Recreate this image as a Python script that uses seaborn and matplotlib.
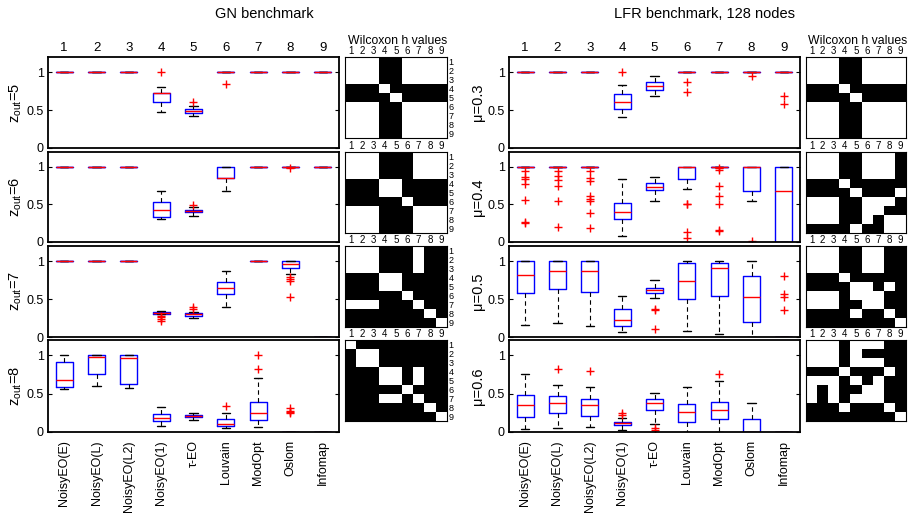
import numpy as np
import matplotlib
matplotlib.use('Agg')
import matplotlib.pyplot as plt
from matplotlib.colors import ListedColormap
import seaborn as sns

# ---------------- data ----------------
METHODS = ["NoisyEO(E)", "NoisyEO(L)", "NoisyEO(L2)", "NoisyEO(1)", "τ-EO",
           "Louvain", "ModOpt", "Oslom", "Infomap"]
NUMS = ["1", "2", "3", "4", "5", "6", "7", "8", "9"]
GN_ROWS = ["$z_{out}$=5", "$z_{out}$=6", "$z_{out}$=7", "$z_{out}$=8"]
LFR_ROWS = ["μ=0.3", "μ=0.4", "μ=0.5", "μ=0.6"]

# GN benchmark box statistics (rows: z_out=5..8, columns: methods 1..9)
GN_Q1 = [[1, 1, 1, 0.60, 0.46, 1, 1, 1, 1],
         [1, 1, 1, 0.33, 0.395, 0.85, 1, 1, 1],
         [1, 1, 1, 0.307, 0.28, 0.565, 1, 0.915, 0],
         [0.59, 0.755, 0.63, 0.14, 0.19, 0.08, 0.155, 0, 0]]
GN_MED = [[1, 1, 1, 0.73, 0.49, 1, 1, 1, 1],
          [1, 1, 1, 0.42, 0.41, 0.85, 1, 1, 1],
          [1, 1, 1, 0.315, 0.30, 0.645, 1, 0.96, 0],
          [0.675, 0.98, 0.965, 0.185, 0.205, 0.10, 0.25, 0, 0]]
GN_Q3 = [[1, 1, 1, 0.73, 0.51, 1, 1, 1, 1],
         [1, 1, 1, 0.53, 0.43, 1, 1, 1, 1],
         [1, 1, 1, 0.325, 0.32, 0.73, 1, 1.0, 0],
         [0.91, 1, 1, 0.23, 0.22, 0.175, 0.385, 0, 0]]
GN_LO = [[1, 1, 1, 0.47, 0.425, 1, 1, 1, 1],
         [1, 1, 1, 0.31, 0.35, 0.675, 1, 1, 1],
         [1, 1, 1, 0.30, 0.255, 0.39, 1, 0.83, 0],
         [0.56, 0.595, 0.58, 0.08, 0.16, 0.05, 0.06, 0, 0]]
GN_HI = [[1, 1, 1, 0.81, 0.55, 1, 1, 1, 1],
         [1, 1, 1, 0.675, 0.465, 1, 1, 1, 1],
         [1, 1, 1, 0.34, 0.33, 0.87, 1, 1, 0],
         [1, 1, 1, 0.32, 0.245, 0.245, 0.70, 0, 0]]
GN_FLIERS = [[[], [], [], [1.0], [0.60], [0.84], [], [], []],
             [[], [], [], [], [0.49], [], [], [0.98], []],
             [[], [], [], [0.28, 0.26, 0.24, 0.21], [0.40, 0.37], [], [],
              [0.79, 0.76, 0.74, 0.53], []],
             [[], [], [], [], [], [0.335], [1.0, 0.825], [0.31, 0.28, 0.26, 0.25], []]]

# LFR benchmark box statistics (rows: mu=0.3..0.6)
LFR_Q1 = [[1, 1, 1, 0.51, 0.76, 1, 1, 1, 1],
          [1, 1, 1, 0.30, 0.69, 0.84, 1, 0.68, 0],
          [0.585, 0.635, 0.595, 0.145, 0.585, 0.495, 0.535, 0.20, 0],
          [0.19, 0.25, 0.215, 0.09, 0.285, 0.135, 0.165, 0, 0]]
LFR_MED = [[1, 1, 1, 0.60, 0.815, 1, 1, 1, 1],
           [1, 1, 1, 0.40, 0.735, 1, 1, 1, 0.685],
           [0.82, 0.865, 0.87, 0.23, 0.615, 0.735, 0.915, 0.525, 0],
           [0.355, 0.375, 0.355, 0.115, 0.375, 0.26, 0.285, 0, 0]]
LFR_Q3 = [[1, 1, 1, 0.71, 0.87, 1, 1, 1, 1],
          [1, 1, 1, 0.52, 0.79, 1, 1, 1, 1],
          [1, 1, 1, 0.37, 0.64, 0.97, 0.97, 0.80, 0],
          [0.485, 0.47, 0.435, 0.135, 0.43, 0.365, 0.385, 0.175, 0]]
LFR_LO = [[1, 1, 1, 0.41, 0.68, 1, 1, 1, 1],
          [1, 1, 1, 0.08, 0.55, 0.70, 1, 0.54, 0],
          [0.155, 0.19, 0.14, 0.06, 0.52, 0.08, 0.035, 0.0, 0],
          [0.04, 0.05, 0.06, 0.03, 0.10, 0.0, 0.0, 0, 0]]
LFR_HI = [[1, 1, 1, 0.825, 0.955, 1, 1, 1, 1],
          [1, 1, 1, 0.845, 0.87, 1, 1, 1, 1],
          [1, 1, 1, 0.54, 0.75, 1, 1, 1, 0],
          [0.76, 0.61, 0.59, 0.18, 0.505, 0.59, 0.665, 0.38, 0]]
LFR_FLIERS = [[[], [], [], [1.0], [], [0.865, 0.745], [], [0.955], [0.69, 0.58]],
              [[0.94, 0.87, 0.84, 0.77, 0.56, 0.27, 0.26],
               [0.94, 0.885, 0.83, 0.745, 0.54, 0.205],
               [0.94, 0.855, 0.815, 0.61, 0.575, 0.54, 0.38, 0.19],
               [], [], [0.51, 0.50, 0.13, 0.05],
               [0.98, 0.96, 0.75, 0.61, 0.51, 0.16, 0.15], [0.02], []],
              [[], [], [], [], [0.365, 0.355, 0.10], [], [], [],
               [0.80, 0.565, 0.53, 0.35]],
              [[], [0.825], [0.80], [0.245, 0.225], [0.05, 0.03], [], [0.755], [], []]]

# Wilcoxon h values (1 = black, 0 = white)
GN_H = [
    [[0,0,0,1,1,0,0,0,0],[0,0,0,1,1,0,0,0,0],[0,0,0,1,1,0,0,0,0],
     [1,1,1,0,1,1,1,1,1],[1,1,1,1,0,1,1,1,1],[0,0,0,1,1,0,0,0,0],
     [0,0,0,1,1,0,0,0,0],[0,0,0,1,1,0,0,0,0],[0,0,0,1,1,0,0,0,0]],
    [[0,0,0,1,1,1,0,0,0],[0,0,0,1,1,1,0,0,0],[0,0,0,1,1,1,0,0,0],
     [1,1,1,0,0,1,1,1,1],[1,1,1,0,0,1,1,1,1],[1,1,1,1,1,0,1,1,1],
     [0,0,0,1,1,1,0,0,0],[0,0,0,1,1,1,0,0,0],[0,0,0,1,1,1,0,0,0]],
    [[0,0,0,1,1,1,0,1,1],[0,0,0,1,1,1,0,1,1],[0,0,0,1,1,1,0,1,1],
     [1,1,1,0,0,1,1,1,1],[1,1,1,0,0,1,1,1,1],[1,1,1,1,1,0,1,1,1],
     [0,0,0,1,1,1,0,1,1],[1,1,1,1,1,1,1,0,1],[1,1,1,1,1,1,1,1,0]],
    [[0,1,1,1,1,1,1,1,1],[1,0,0,1,1,1,1,1,1],[1,0,0,1,1,1,1,1,1],
     [1,1,1,0,0,1,0,1,1],[1,1,1,0,0,1,0,1,1],[1,1,1,1,1,0,1,1,1],
     [1,1,1,0,0,1,0,1,1],[1,1,1,1,1,1,1,0,1],[1,1,1,1,1,1,1,1,0]],
]
LFR_H = [
    [[0,0,0,1,1,0,0,0,0],[0,0,0,1,1,0,0,0,0],[0,0,0,1,1,0,0,0,0],
     [1,1,1,0,1,1,1,1,1],[1,1,1,1,0,1,1,1,1],[0,0,0,1,1,0,0,0,0],
     [0,0,0,1,1,0,0,0,0],[0,0,0,1,1,0,0,0,0],[0,0,0,1,1,0,0,0,0]],
    [[0,0,0,1,1,0,0,0,1],[0,0,0,1,1,0,0,0,1],[0,0,0,1,1,0,0,0,1],
     [1,1,1,0,1,1,1,1,1],[1,1,1,1,0,1,1,1,0],[0,0,0,1,1,0,0,0,1],
     [0,0,0,1,1,0,0,1,1],[0,0,0,1,1,0,1,0,0],[1,1,1,1,0,1,1,0,0]],
    [[0,0,0,1,1,0,0,1,1],[0,0,0,1,1,0,0,1,1],[0,0,0,1,1,0,0,1,1],
     [1,1,1,0,1,1,1,1,1],[1,1,1,1,0,0,1,0,1],[0,0,0,1,0,0,0,1,1],
     [0,0,0,1,1,0,0,1,1],[1,1,1,1,0,1,1,0,1],[1,1,1,1,1,1,1,1,0]],
    [[0,0,0,1,0,0,0,1,1],[0,0,0,1,0,1,1,1,1],[0,0,0,1,0,0,0,1,1],
     [1,1,1,0,1,1,1,0,1],[0,0,0,1,0,1,0,1,1],[0,1,0,1,1,0,0,1,1],
     [0,1,0,1,0,0,0,1,1],[1,1,1,0,1,1,1,0,1],[1,1,1,1,1,1,1,1,0]],
]

# ---------------- style ----------------
sns.set_style('white')
plt.rcParams['font.family'] = ['Liberation Sans', 'DejaVu Sans']
plt.rcParams['mathtext.default'] = 'regular'
plt.rcParams['mathtext.fontset'] = 'custom'
plt.rcParams['mathtext.rm'] = 'Liberation Sans'
for k in ['text.color', 'axes.labelcolor', 'xtick.color', 'ytick.color']:
    plt.rcParams[k] = 'black'

W, H = 910, 515
fig = plt.figure(figsize=(W / 100, H / 100), dpi=100)


def px_axes(x0, y0, x1, y1):
    return fig.add_axes([x0 / W, 1 - y1 / H, (x1 - x0) / W, (y1 - y0) / H])


PANEL_Y = [(57, 148), (152, 242), (246, 337), (340, 432)]
GROUPS = [
    dict(bx=(48, 339), hx=(345, 447), q1=GN_Q1, med=GN_MED, q3=GN_Q3, lo=GN_LO,
         hi=GN_HI, fl=GN_FLIERS, rows=GN_ROWS, mats=GN_H, rowlab=True,
         title="GN benchmark", tx=264),
    dict(bx=(509, 800), hx=(806, 906), q1=LFR_Q1, med=LFR_MED, q3=LFR_Q3, lo=LFR_LO,
         hi=LFR_HI, fl=LFR_FLIERS, rows=LFR_ROWS, mats=LFR_H, rowlab=False,
         title="LFR benchmark, 128 nodes", tx=704),
]

cmap = ListedColormap(['white', 'black'])

for g in GROUPS:
    fig.text(g['tx'] / W, 1 - 14 / H, g['title'], ha='center', va='center', fontsize=10.5)
    hcx = (g['hx'][0] + g['hx'][1]) / 2 + 2
    fig.text(hcx / W, 1 - 41 / H, "Wilcoxon h values", ha='center', va='center',
             fontsize=8.8)
    for r, (y0, y1) in enumerate(PANEL_Y):
        ax = px_axes(g['bx'][0], y0, g['bx'][1], y1)
        stats = []
        for i in range(9):
            stats.append(dict(q1=g['q1'][r][i], med=g['med'][r][i], q3=g['q3'][r][i],
                              whislo=g['lo'][r][i], whishi=g['hi'][r][i],
                              fliers=g['fl'][r][i]))
        ax.bxp(stats, positions=list(range(1, 10)), widths=0.52, capwidths=0.26,
               manage_ticks=False,
               boxprops=dict(color='#0000ff', lw=1.0),
               medianprops=dict(color='#ff0000', lw=1.0),
               whiskerprops=dict(color='black', lw=0.8, linestyle=(0, (4, 3))),
               capprops=dict(color='black', lw=1.0),
               flierprops=dict(marker='+', markeredgecolor='#ff0000', markersize=6,
                               linestyle='none', markeredgewidth=1.0))
        ax.set_xlim(0.5, 9.5)
        ax.set_ylim(0, 1.2)
        ax.set_yticks([0, 0.5, 1])
        ax.set_yticklabels(['0', '0.5', '1'])
        ax.tick_params(axis='y', direction='in', left=True, right=True, length=3,
                       labelsize=9, pad=3)
        ax.set_xticks(range(1, 10))
        if r == 0:
            ax.set_xticklabels(NUMS)
            ax.tick_params(axis='x', top=True, labeltop=True, bottom=False,
                           labelbottom=False, length=0, labelsize=9.5, pad=2)
        elif r == 3:
            ax.set_xticklabels(METHODS, rotation=90, va='top', ha='center')
            ax.tick_params(axis='x', length=0, labelsize=9, pad=6)
        else:
            ax.set_xticklabels([])
            ax.tick_params(axis='x', length=0)
        ax.set_ylabel(g['rows'][r], fontsize=10.5, labelpad=2)
        for s in ax.spines.values():
            s.set_visible(True)
            s.set_color('black')
            s.set_linewidth(1.3)

        # heatmap of Wilcoxon h values
        hax = px_axes(g['hx'][0], y0, g['hx'][1], y0 + 81)
        sns.heatmap(np.array(g['mats'][r]), ax=hax, cmap=cmap, vmin=0, vmax=1,
                    cbar=False, xticklabels=NUMS,
                    yticklabels=NUMS if g['rowlab'] else False)
        hax.xaxis.tick_top()
        hax.yaxis.tick_right()
        hax.tick_params(axis='x', length=0, labelsize=7, pad=1)
        hax.tick_params(axis='y', length=0, labelsize=6.5, pad=1)
        plt.setp(hax.get_xticklabels(), rotation=0)
        plt.setp(hax.get_yticklabels(), rotation=0)
        for s in hax.spines.values():
            s.set_visible(True)
            s.set_color('black')
            s.set_linewidth(0.8)

fig.savefig('out.png', dpi=100)
